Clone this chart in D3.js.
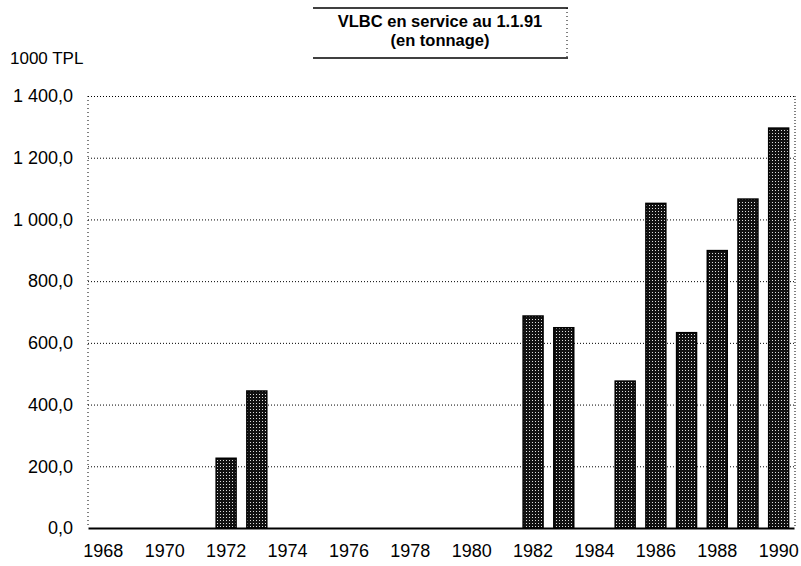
<!DOCTYPE html>
<html>
<head>
<meta charset="utf-8">
<script src="https://cdn.jsdelivr.net/npm/d3@7"></script>
<style>
  body { margin: 0; background: #fff; }
  svg { font-family: "Liberation Sans", Arial, sans-serif; }
</style>
</head>
<body>
<svg width="801" height="566"></svg>
<script>
// data
var years = d3.range(1968, 1991);
var barYears = [1972, 1973, 1982, 1983, 1985, 1986, 1987, 1988, 1989, 1990];
var tonnage = [226, 444, 687, 649, 476, 1052, 633, 899, 1066, 1296];
var yTicks = [0, 200, 400, 600, 800, 1000, 1200, 1400];
var xTickYears = [1968, 1970, 1972, 1974, 1976, 1978, 1980, 1982, 1984, 1986, 1988, 1990];
var titleLines = ["VLBC en service au 1.1.91", "(en tonnage)"];

var svg = d3.select('svg');

var plotL = 88, plotR = 794, plotT = 96, plotB = 528;

var x = d3.scaleBand().domain(years).range([plotL, plotR]).paddingInner(0.35).paddingOuter(0.175);
var y = d3.scaleLinear().domain([0, 1400]).range([plotB, plotT]);

// dotted fill of the bars
var defs = svg.append('defs');
var pat = defs.append('pattern').attr('id', 'dots').attr('patternUnits', 'userSpaceOnUse')
  .attr('width', 3).attr('height', 3);
pat.append('rect').attr('width', 3).attr('height', 3).attr('fill', '#111');
pat.append('rect').attr('x', 1).attr('y', 1).attr('width', 1).attr('height', 1).attr('fill', '#ddd');

// format "1 400,0"
function fmt(v) {
  var s = v.toFixed(1).replace('.', ',');
  var parts = s.split(',');
  var ip = parts[0].replace(/\B(?=(\d{3})+(?!\d))/g, ' ');
  return ip + ',' + parts[1];
}

// grid lines
var yAxis = d3.axisLeft(y).tickValues(yTicks).tickFormat(fmt).tickSize(-(plotR - plotL)).tickPadding(15);
var gy = svg.append('g').attr('transform', 'translate(' + plotL + ',0)').call(yAxis);
gy.select('.domain').remove();
gy.selectAll('.tick line').attr('stroke', '#000').attr('stroke-width', 1).attr('stroke-dasharray', '1,2');
gy.selectAll('.tick text').attr('font-size', 18).attr('fill', '#000')
  .attr('font-family', '"Liberation Sans", Arial, sans-serif');
gy.selectAll('.tick').filter(function(d) { return d === 0; }).select('line').remove();

// frame sides (dotted)
svg.append('line').attr('x1', plotL).attr('x2', plotL).attr('y1', plotT).attr('y2', plotB)
  .attr('stroke', '#000').attr('stroke-dasharray', '1,3');
svg.append('line').attr('x1', plotR + 1).attr('x2', plotR + 1).attr('y1', plotT).attr('y2', plotB)
  .attr('stroke', '#000').attr('stroke-dasharray', '1,2');

// bars
svg.append('g').selectAll('rect').data(barYears).join('rect')
  .attr('x', function(d) { return x(d); })
  .attr('y', function(d, i) { return y(tonnage[i]); })
  .attr('width', x.bandwidth())
  .attr('height', function(d, i) { return y(0) - y(tonnage[i]); })
  .attr('fill', 'url(#dots)')
  .attr('stroke', '#000').attr('stroke-width', 1.5);

// x axis
var xAxis = d3.axisBottom(x).tickValues(xTickYears).tickSize(0).tickPadding(16);
var gx = svg.append('g').attr('transform', 'translate(0,' + plotB + ')').call(xAxis);
gx.select('.domain').attr('stroke', '#000').attr('stroke-width', 2);
gx.selectAll('.tick text').attr('font-size', 18).attr('fill', '#000')
  .attr('font-family', '"Liberation Sans", Arial, sans-serif');

// y axis unit
svg.append('text').attr('x', 10).attr('y', 64).attr('font-size', 17).text('1000 TPL');

// title box
var tx = 440;
svg.append('line').attr('x1', 313).attr('x2', 568).attr('y1', 8).attr('y2', 8).attr('stroke', '#000').attr('stroke-width', 1.5);
svg.append('line').attr('x1', 313).attr('x2', 568).attr('y1', 58).attr('y2', 58).attr('stroke', '#000').attr('stroke-width', 1.5);
svg.append('line').attr('x1', 567).attr('x2', 567).attr('y1', 8).attr('y2', 58).attr('stroke', '#000').attr('stroke-dasharray', '1,3');
svg.append('g').selectAll('text').data(titleLines).join('text')
  .attr('x', tx).attr('y', function(d, i) { return 27 + i * 19; })
  .attr('text-anchor', 'middle').attr('font-size', 16.5).attr('font-weight', 'bold')
  .text(function(d) { return d; });
</script>
</body>
</html>
